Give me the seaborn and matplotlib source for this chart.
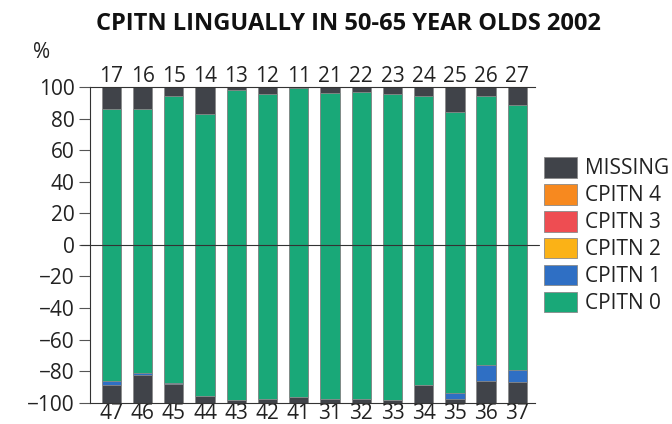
import seaborn as sns
import matplotlib.pyplot as plt
import matplotlib.patches as mpatches
import numpy as np

# teeth labels, top row (upper jaw) and bottom row (lower jaw)
upper_teeth = ['17', '16', '15', '14', '13', '12', '11', '21', '22', '23', '24', '25', '26', '27']
lower_teeth = ['47', '46', '45', '44', '43', '42', '41', '31', '32', '33', '34', '35', '36', '37']

# upper jaw, % CPITN 0 (rest missing)
upper_cpitn0 = [86, 86, 94, 83, 98, 95.5, 99, 96, 96.5, 95.5, 94.5, 84, 94, 88.5]
upper_missing = [14, 14, 6, 17, 2, 4.5, 1, 4, 3.5, 4.5, 5.5, 16, 6, 11.5]

# lower jaw
lower_cpitn0 = [86, 81, 87.4, 95.8, 98.4, 97.7, 96.2, 97.7, 97.7, 98, 88.9, 94.1, 76, 79.4]
lower_cpitn1 = [3, 1.5, 0.6, 0, 0, 0, 0, 0, 0, 0, 0, 3.4, 10, 7.6]
lower_missing = [11, 17.5, 12, 4.2, 1.6, 2.3, 3.8, 2.3, 2.3, 2, 11.1, 2.5, 14, 13]

legend_labels = ['MISSING', 'CPITN 4', 'CPITN 3', 'CPITN 2', 'CPITN 1', 'CPITN 0']
colors = {'MISSING': '#404349', 'CPITN 4': '#f7891f', 'CPITN 3': '#ee4d52',
          'CPITN 2': '#fbb216', 'CPITN 1': '#2f6fc4', 'CPITN 0': '#19a878'}

sns.set_style('white')
plt.rcParams['font.family'] = ['Open Sans', 'DejaVu Sans']

fig = plt.figure(figsize=(6.72, 4.24), dpi=100)
ax = fig.add_axes([0.134, 0.05, 0.662, 0.745])

pos = [str(i) for i in range(len(upper_teeth))]
bw = 0.62
edge = dict(edgecolor='#8a8a8a', linewidth=0.6)
fs = 15

# upper: full stack then green over it
up_total = np.array(upper_cpitn0) + np.array(upper_missing)
sns.barplot(x=pos, y=up_total, color=colors['MISSING'], width=bw, saturation=1, ax=ax, **edge)
sns.barplot(x=pos, y=upper_cpitn0, color=colors['CPITN 0'], width=bw, saturation=1, ax=ax, **edge)

# lower: negative direction
lo0 = np.array(lower_cpitn0)
lo1 = lo0 + np.array(lower_cpitn1)
lo_total = lo1 + np.array(lower_missing)
sns.barplot(x=pos, y=-lo_total, color=colors['MISSING'], width=bw, saturation=1, ax=ax, **edge)
sns.barplot(x=pos, y=-lo1, color=colors['CPITN 1'], width=bw, saturation=1, ax=ax, **edge)
sns.barplot(x=pos, y=-lo0, color=colors['CPITN 0'], width=bw, saturation=1, ax=ax, **edge)

ax.set_xlim(-0.68, 13.56)
ax.set_ylim(-100, 100)
ax.axhline(0, color='#333333', lw=0.8, xmin=-0.02, xmax=1.01, clip_on=False)

ax.set_yticks(np.arange(-100, 101, 20))
ax.tick_params(axis='y', left=True, length=8, width=0.8, color='#555555',
               labelsize=fs, labelcolor='#222222', pad=3)
ax.tick_params(axis='x', length=0, labelsize=fs, labelcolor='#222222', pad=0)
ax.set_xticks(range(len(lower_teeth)))
ax.set_xticklabels(lower_teeth)
ax.set_xlabel('')

for s in ['left', 'top', 'bottom']:
    ax.spines[s].set_color('#333333')
    ax.spines[s].set_linewidth(0.8)
ax.spines['right'].set_visible(False)

top = ax.twiny()
top.set_xlim(ax.get_xlim())
top.set_xticks(range(len(upper_teeth)))
top.set_xticklabels(upper_teeth)
top.tick_params(axis='x', length=0, labelsize=fs, labelcolor='#222222', pad=0)
for s in top.spines.values():
    s.set_visible(False)

fig.text(0.062, 0.876, '%', fontsize=fs, color='#222222', ha='center', va='center')
fig.text(0.518, 0.944, 'CPITN LINGUALLY IN 50-65 YEAR OLDS 2002', fontsize=17,
         fontweight='bold', color='#111111', ha='center', va='center')

handles = [mpatches.Patch(facecolor=colors[k], edgecolor='#8a8a8a', linewidth=0.6, label=k)
           for k in legend_labels]
fig.legend(handles=handles, loc='upper left', bbox_to_anchor=(0.81, 0.63), frameon=False,
           fontsize=fs, handlelength=1.55, handleheight=1.15, handletextpad=0.4,
           labelspacing=0.22, labelcolor='#222222', borderaxespad=0, borderpad=0)

fig.savefig('out.png', dpi=100)
